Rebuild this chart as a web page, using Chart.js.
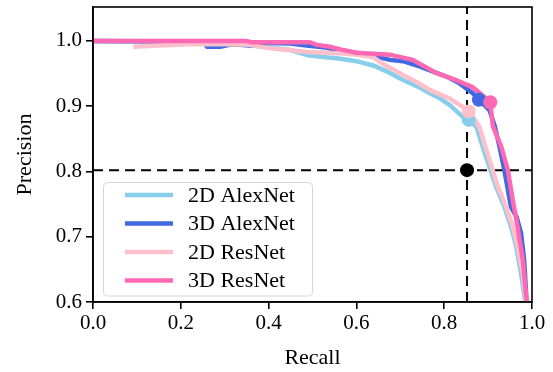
<!DOCTYPE html>
<html>
<head>
<meta charset="utf-8">
<script src="https://cdn.jsdelivr.net/npm/chart.js@4.4.1/dist/chart.umd.min.js"></script>
<style>
  html, body { margin: 0; padding: 0; background: #fff; }
  #wrap { width: 553px; height: 372px; position: relative; }
</style>
</head>
<body>
<div id="wrap"><canvas id="c" width="553" height="372"></canvas></div>
<script>
// ---- data ----
const seriesNames = ["2D AlexNet", "3D AlexNet", "2D ResNet", "3D ResNet"];
const seriesColors = ["#87CEEB", "#4169E1", "#FFC0CB", "#FF69B4"];

const alex2dRecall    = [0, 0.30, 0.40, 0.45, 0.49, 0.53, 0.56, 0.60, 0.64, 0.67, 0.706, 0.74, 0.767, 0.79, 0.812, 0.842, 0.856, 0.873, 0.895, 0.918, 0.937, 0.952, 0.964, 0.975, 0.984, 0.988];
const alex2dPrecision = [1.0, 0.998, 0.99, 0.986, 0.978, 0.975, 0.973, 0.969, 0.962, 0.953, 0.940, 0.930, 0.920, 0.912, 0.902, 0.884, 0.879, 0.869, 0.823, 0.777, 0.746, 0.716, 0.685, 0.644, 0.603, 0.59];

const alex3dRecall    = [0, 0.25, 0.26, 0.29, 0.316, 0.357, 0.40, 0.45, 0.486, 0.53, 0.562, 0.62, 0.676, 0.706, 0.74, 0.782, 0.81, 0.835, 0.865, 0.879, 0.903, 0.915, 0.926, 0.937, 0.952, 0.965, 0.975, 0.982, 0.986, 0.988];
const alex3dPrecision = [1.0, 0.999, 0.991, 0.991, 0.995, 0.993, 0.997, 0.996, 0.993, 0.99, 0.985, 0.98, 0.971, 0.969, 0.962, 0.951, 0.944, 0.935, 0.920, 0.910, 0.894, 0.870, 0.838, 0.802, 0.746, 0.730, 0.706, 0.665, 0.62, 0.59];

const res2dRecall    = [0.092, 0.15, 0.22, 0.30, 0.357, 0.40, 0.433, 0.487, 0.53, 0.562, 0.60, 0.638, 0.66, 0.706, 0.74, 0.767, 0.812, 0.842, 0.856, 0.880, 0.903, 0.922, 0.941, 0.956, 0.967, 0.979, 0.986, 0.99];
const res2dPrecision = [0.991, 0.993, 0.995, 0.995, 0.994, 0.989, 0.987, 0.983, 0.982, 0.981, 0.979, 0.975, 0.965, 0.948, 0.936, 0.925, 0.912, 0.899, 0.892, 0.869, 0.818, 0.777, 0.746, 0.716, 0.685, 0.644, 0.603, 0.59];

const res3dRecall    = [0, 0.35, 0.36, 0.494, 0.51, 0.54, 0.57, 0.60, 0.676, 0.728, 0.782, 0.827, 0.865, 0.885, 0.905, 0.911, 0.930, 0.945, 0.956, 0.967, 0.979, 0.986, 0.99];
const res3dPrecision = [1.0, 1.0, 0.998, 0.998, 0.994, 0.991, 0.986, 0.982, 0.979, 0.971, 0.951, 0.940, 0.929, 0.918, 0.906, 0.869, 0.838, 0.802, 0.757, 0.716, 0.665, 0.614, 0.59];

// marked operating points at the end of each curve's knee
const markerRecall    = [0.856, 0.879, 0.856, 0.905];
const markerPrecision = [0.879, 0.910, 0.892, 0.906];

// reference point / threshold lines
const thresholdRecall = 0.852;
const thresholdPrecision = 0.802;

const xTicks = [0, 0.2, 0.4, 0.6, 0.8, 1.0];
const yTicks = [0.6, 0.7, 0.8, 0.9, 1.0];
const xRange = [0, 1.0];
const yRange = [0.6, 1.052];

// ---- build datasets ----
const zip = (xs, ys) => xs.map((x, i) => ({ x: x, y: ys[i] }));
const curves = [
  zip(alex2dRecall, alex2dPrecision),
  zip(alex3dRecall, alex3dPrecision),
  zip(res2dRecall, res2dPrecision),
  zip(res3dRecall, res3dPrecision)
];

const FONT = "'Liberation Serif', 'Times New Roman', serif";
const datasets = [];

// dashed threshold lines (bottom-most)
datasets.push({
  label: "_vline",
  data: [{ x: thresholdRecall, y: yRange[0] }, { x: thresholdRecall, y: yRange[1] }],
  showLine: true, borderColor: "#000", borderWidth: 2, borderDash: [10, 6],
  pointRadius: 0, order: 20, clip: 0
});
datasets.push({
  label: "_hline",
  data: [{ x: xRange[0], y: thresholdPrecision }, { x: xRange[1], y: thresholdPrecision }],
  showLine: true, borderColor: "#000", borderWidth: 2, borderDash: [10, 6],
  pointRadius: 0, order: 20, clip: 0
});

curves.forEach((pts, i) => {
  datasets.push({
    label: seriesNames[i],
    data: pts,
    showLine: true,
    borderColor: seriesColors[i],
    backgroundColor: seriesColors[i],
    borderWidth: 4.5,
    pointRadius: 0,
    tension: 0,
    order: 15 - i,
    clip: { left: 2, right: 0, top: 0, bottom: 0 }
  });
});

markerRecall.forEach((r, i) => {
  datasets.push({
    label: "_marker" + i,
    data: [{ x: r, y: markerPrecision[i] }],
    showLine: false,
    pointRadius: 7,
    pointBorderWidth: 0,
    pointBackgroundColor: seriesColors[i],
    pointBorderColor: seriesColors[i],
    order: 9 - i
  });
});

datasets.push({
  label: "_point",
  data: [{ x: thresholdRecall, y: thresholdPrecision }],
  showLine: false, pointRadius: 7, pointBorderWidth: 0,
  pointBackgroundColor: "#000", pointBorderColor: "#000", order: 1
});

// ---- plugins ----
const frame = {
  id: "frame",
  afterDatasetsDraw(chart) {
    const a = chart.chartArea, ctx = chart.ctx;
    ctx.save();
    ctx.strokeStyle = "#000";
    ctx.lineWidth = 1.6;
    ctx.strokeRect(a.left, a.top, a.right - a.left, a.bottom - a.top);
    ctx.restore();
  }
};

const customLegend = {
  id: "customLegend",
  afterDatasetsDraw(chart) {
    const ctx = chart.ctx;
    const bx = 103.5, by = 182.5, bw = 209, bh = 113.5, r = 4;
    ctx.save();
    ctx.beginPath();
    ctx.moveTo(bx + r, by);
    ctx.arcTo(bx + bw, by, bx + bw, by + bh, r);
    ctx.arcTo(bx + bw, by + bh, bx, by + bh, r);
    ctx.arcTo(bx, by + bh, bx, by, r);
    ctx.arcTo(bx, by, bx + bw, by, r);
    ctx.closePath();
    ctx.fillStyle = "rgba(255,255,255,0.85)";
    ctx.fill();
    ctx.strokeStyle = "#d6d6d6";
    ctx.lineWidth = 1;
    ctx.stroke();
    ctx.font = "22px " + FONT;
    ctx.textBaseline = "middle";
    ctx.fillStyle = "#000";
    seriesNames.forEach((name, i) => {
      const y = 195 + i * 28.5;
      ctx.beginPath();
      ctx.moveTo(125, y);
      ctx.lineTo(173, y);
      ctx.strokeStyle = seriesColors[i];
      ctx.lineWidth = 4.5;
      ctx.stroke();
      ctx.fillText(name, 188, y + 1);
    });
    ctx.restore();
  }
};

new Chart(document.getElementById("c"), {
  type: "scatter",
  data: { datasets: datasets },
  options: {
    responsive: false,
    animation: false,
    devicePixelRatio: 1,
    layout: { padding: { left: 0, top: 7, right: 21, bottom: 0 } },
    plugins: { legend: { display: false }, tooltip: { enabled: false } },
    scales: {
      x: {
        type: "linear",
        min: xRange[0], max: xRange[1],
        afterBuildTicks: (s) => { s.ticks = xTicks.map(v => ({ value: v })); },
        afterFit: (s) => { s.height = 70; },
        ticks: {
          color: "#000", font: { family: FONT, size: 21 }, padding: 2,
          maxRotation: 0, autoSkip: false,
          callback: (v) => Number(v).toFixed(1)
        },
        grid: { display: true, drawOnChartArea: false, drawTicks: true, tickLength: 7, color: "#000", lineWidth: 1.6 },
        border: { display: true, color: "#000", width: 1.6 },
        title: { display: true, text: "Recall", color: "#000", font: { family: FONT, size: 22 }, padding: { top: 0, bottom: 1 } }
      },
      y: {
        type: "linear",
        min: yRange[0], max: yRange[1],
        afterBuildTicks: (s) => { s.ticks = yTicks.map(v => ({ value: v })); },
        afterFit: (s) => { s.width = 93; s.paddingTop = 0; s.paddingBottom = 0; },
        ticks: {
          color: "#000", font: { family: FONT, size: 21 }, padding: 4,
          autoSkip: false,
          callback: (v) => Number(v).toFixed(1)
        },
        grid: { display: true, drawOnChartArea: false, drawTicks: true, tickLength: 7, color: "#000", lineWidth: 1.6 },
        border: { display: true, color: "#000", width: 1.6 },
        title: { display: true, text: "Precision", color: "#000", font: { family: FONT, size: 22 }, padding: { top: 12, bottom: 0 } }
      }
    }
  },
  plugins: [frame, customLegend]
});
</script>
</body>
</html>
